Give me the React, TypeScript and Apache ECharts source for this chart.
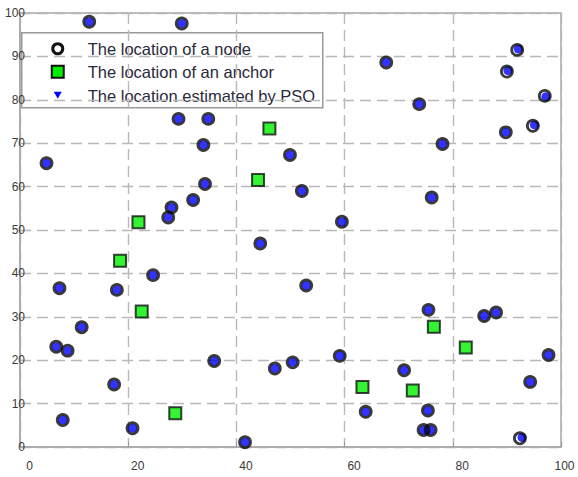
import React, { useEffect, useRef } from "react";
import * as echarts from "echarts";

// Nodes (true locations)
const nodeX = [12.8, 29.9, 4.9, 29.3, 34.8, 33.9, 34.2, 32.0, 28.0, 27.4, 24.6, 7.3, 17.9, 49.9, 44.4, 52.1, 11.4, 6.7, 8.8, 17.4, 7.9, 20.8, 35.9, 41.6, 47.1, 50.4, 67.7, 91.9, 90.0, 97.0, 73.8, 94.8, 89.8, 78.1, 76.1, 59.5, 52.9, 75.5, 85.8, 88.0, 97.7, 59.1, 71.0, 94.3, 63.9, 75.4, 74.6, 75.9, 92.4];
const nodeY = [98.0, 97.6, 65.4, 75.6, 75.6, 69.6, 60.6, 56.9, 55.2, 52.9, 39.6, 36.6, 36.2, 67.3, 46.9, 59.0, 27.6, 23.1, 22.2, 14.4, 6.2, 4.3, 19.8, 1.1, 18.1, 19.5, 88.6, 91.5, 86.5, 80.9, 79.0, 74.0, 72.5, 69.8, 57.5, 51.9, 37.2, 31.6, 30.2, 31.0, 21.2, 21.0, 17.7, 15.0, 8.1, 8.4, 3.9, 3.9, 2.0];

// Estimated by PSO
const estX = [12.8, 29.9, 4.9, 29.3, 34.8, 33.9, 34.2, 32.0, 28.0, 27.4, 24.6, 7.3, 17.9, 49.9, 44.4, 52.1, 11.4, 6.7, 8.8, 17.4, 7.9, 20.8, 35.9, 41.6, 47.1, 50.4, 67.7, 92.1, 90.2, 97.2, 73.8, 95.1, 89.8, 78.1, 76.1, 59.5, 52.9, 75.5, 85.8, 88.0, 97.7, 59.1, 71.0, 94.3, 63.9, 75.4, 74.6, 75.9, 92.8];
const estY = [98.0, 97.6, 65.4, 75.6, 75.6, 69.6, 60.6, 56.9, 55.2, 52.9, 39.6, 36.6, 36.2, 67.3, 46.9, 59.0, 27.6, 23.1, 22.2, 14.4, 6.2, 4.3, 19.8, 1.1, 18.1, 19.5, 88.6, 91.7, 86.7, 80.7, 79.0, 74.2, 72.5, 69.8, 57.5, 51.9, 37.2, 31.6, 30.2, 31.0, 21.2, 21.0, 17.7, 15.0, 8.1, 8.4, 3.9, 3.9, 2.2];

// Anchors
const anchorX = [46.1, 44.0, 21.9, 18.5, 22.5, 28.7, 76.5, 82.4, 63.3, 72.6];
const anchorY = [73.4, 61.5, 51.8, 42.9, 31.2, 7.8, 27.7, 22.9, 13.8, 13.0];

const legendLabels = [
  "The location of a node",
  "The location of an anchor",
  "The location estimated by PSO",
];

const X_MIN = 0, X_MAX = 100, X_STEP = 20;
const Y_MIN = 0, Y_MAX = 100, Y_STEP = 10;

const zip = (xs: number[], ys: number[]) => xs.map((x, i) => [x, ys[i]]);

export default function App() {
  const ref = useRef<HTMLDivElement>(null);
  useEffect(() => {
    if (!ref.current) return;
    const chart = echarts.init(ref.current, undefined, { renderer: "svg" });
    const gridColor = "#b8b8b8";
    const axisColor = "#a8a8a8";
    const font = "Liberation Sans, Arial, sans-serif";
    const legendFont = 16.5;
    const labelBase = { color: "#3a3a3a", fontSize: 12, fontFamily: font };
    chart.setOption({
      animation: false,
      backgroundColor: "#ffffff",
      grid: {
        left: 20,
        right: 17,
        top: 13,
        bottom: 30,
        outerBoundsMode: "none",
        containLabel: false,
        show: true,
        borderColor: axisColor,
        borderWidth: 1.5,
        backgroundColor: "transparent",
      },
      xAxis: {
        type: "value",
        min: X_MIN,
        max: X_MAX,
        interval: X_STEP,
        axisLine: { show: true, lineStyle: { color: axisColor, width: 1.5 } },
        axisTick: { show: true, inside: true, length: 5, lineStyle: { color: "#999" } },
        axisLabel: {
          ...labelBase,
          margin: 13,
          formatter: (v: number) => (v === X_MAX ? `{e|${v}}` : `{n|${v}}`),
          rich: {
            n: { ...labelBase, padding: [0, 0, 0, 19] },
            e: { ...labelBase, padding: [0, 0, 0, 7] },
          },
        },
        splitLine: {
          show: true,
          lineStyle: { color: gridColor, width: 1.4, type: [11, 6] },
        },
      },
      yAxis: {
        type: "value",
        min: Y_MIN,
        max: Y_MAX,
        interval: Y_STEP,
        axisLine: { show: true, lineStyle: { color: axisColor, width: 1.5 } },
        axisTick: { show: false },
        axisLabel: {
          ...labelBase,
          margin: -5,
        },
        splitLine: {
          show: true,
          lineStyle: { color: gridColor, width: 1.4, type: [11, 6] },
        },
      },
      series: [
        {
          name: legendLabels[2],
          type: "scatter",
          data: zip(estX, estY),
          symbol: "circle",
          symbolSize: 9,
          itemStyle: { color: "#0000ff" },
          z: 2,
        },
        {
          name: legendLabels[0],
          type: "scatter",
          data: zip(nodeX, nodeY),
          symbol: "circle",
          symbolSize: 11,
          itemStyle: { color: "rgba(0,0,0,0)", borderColor: "#0a0a0a", borderWidth: 2.8 },
          z: 3,
        },
        {
          name: legendLabels[1],
          type: "scatter",
          data: zip(anchorX, anchorY),
          symbol: "rect",
          symbolSize: 12,
          itemStyle: { color: "#00f000", borderColor: "#111", borderWidth: 2 },
          z: 4,
        },
      ],
      graphic: [
        {
          type: "group",
          left: 21,
          top: 32,
          z: 100,
          children: [
            {
              type: "rect",
              shape: { x: 0, y: 0, width: 301, height: 75 },
              style: { fill: "#ffffff", stroke: "#9a9a9a", lineWidth: 1.5 },
            },
            {
              type: "circle",
              shape: { cx: 36, cy: 16, r: 5 },
              style: { fill: "#ffffff", stroke: "#111", lineWidth: 3 },
            },
            {
              type: "rect",
              shape: { x: 30, y: 33, width: 12, height: 12 },
              style: { fill: "#00f000", stroke: "#111", lineWidth: 2 },
            },
            {
              type: "polygon",
              shape: { points: [[32, 59], [40, 59], [36, 66]] },
              style: { fill: "#0000ff" },
            },
            {
              type: "text",
              x: 66,
              y: 16,
              style: {
                text: legendLabels[0],
                fontSize: legendFont,
                fontFamily: font,
                fill: "#2a2a3a",
                verticalAlign: "middle",
              },
            },
            {
              type: "text",
              x: 66,
              y: 39,
              style: {
                text: legendLabels[1],
                fontSize: legendFont,
                fontFamily: font,
                fill: "#2a2a3a",
                verticalAlign: "middle",
              },
            },
            {
              type: "text",
              x: 66,
              y: 63,
              style: {
                text: legendLabels[2],
                fontSize: legendFont,
                fontFamily: font,
                fill: "#2a2a3a",
                verticalAlign: "middle",
              },
            },
          ],
        },
      ],
    });
    return () => chart.dispose();
  }, []);
  return (
    <div
      ref={ref}
      style={{ position: "absolute", left: 0, top: 0, width: 578, height: 477 }}
    />
  );
}
